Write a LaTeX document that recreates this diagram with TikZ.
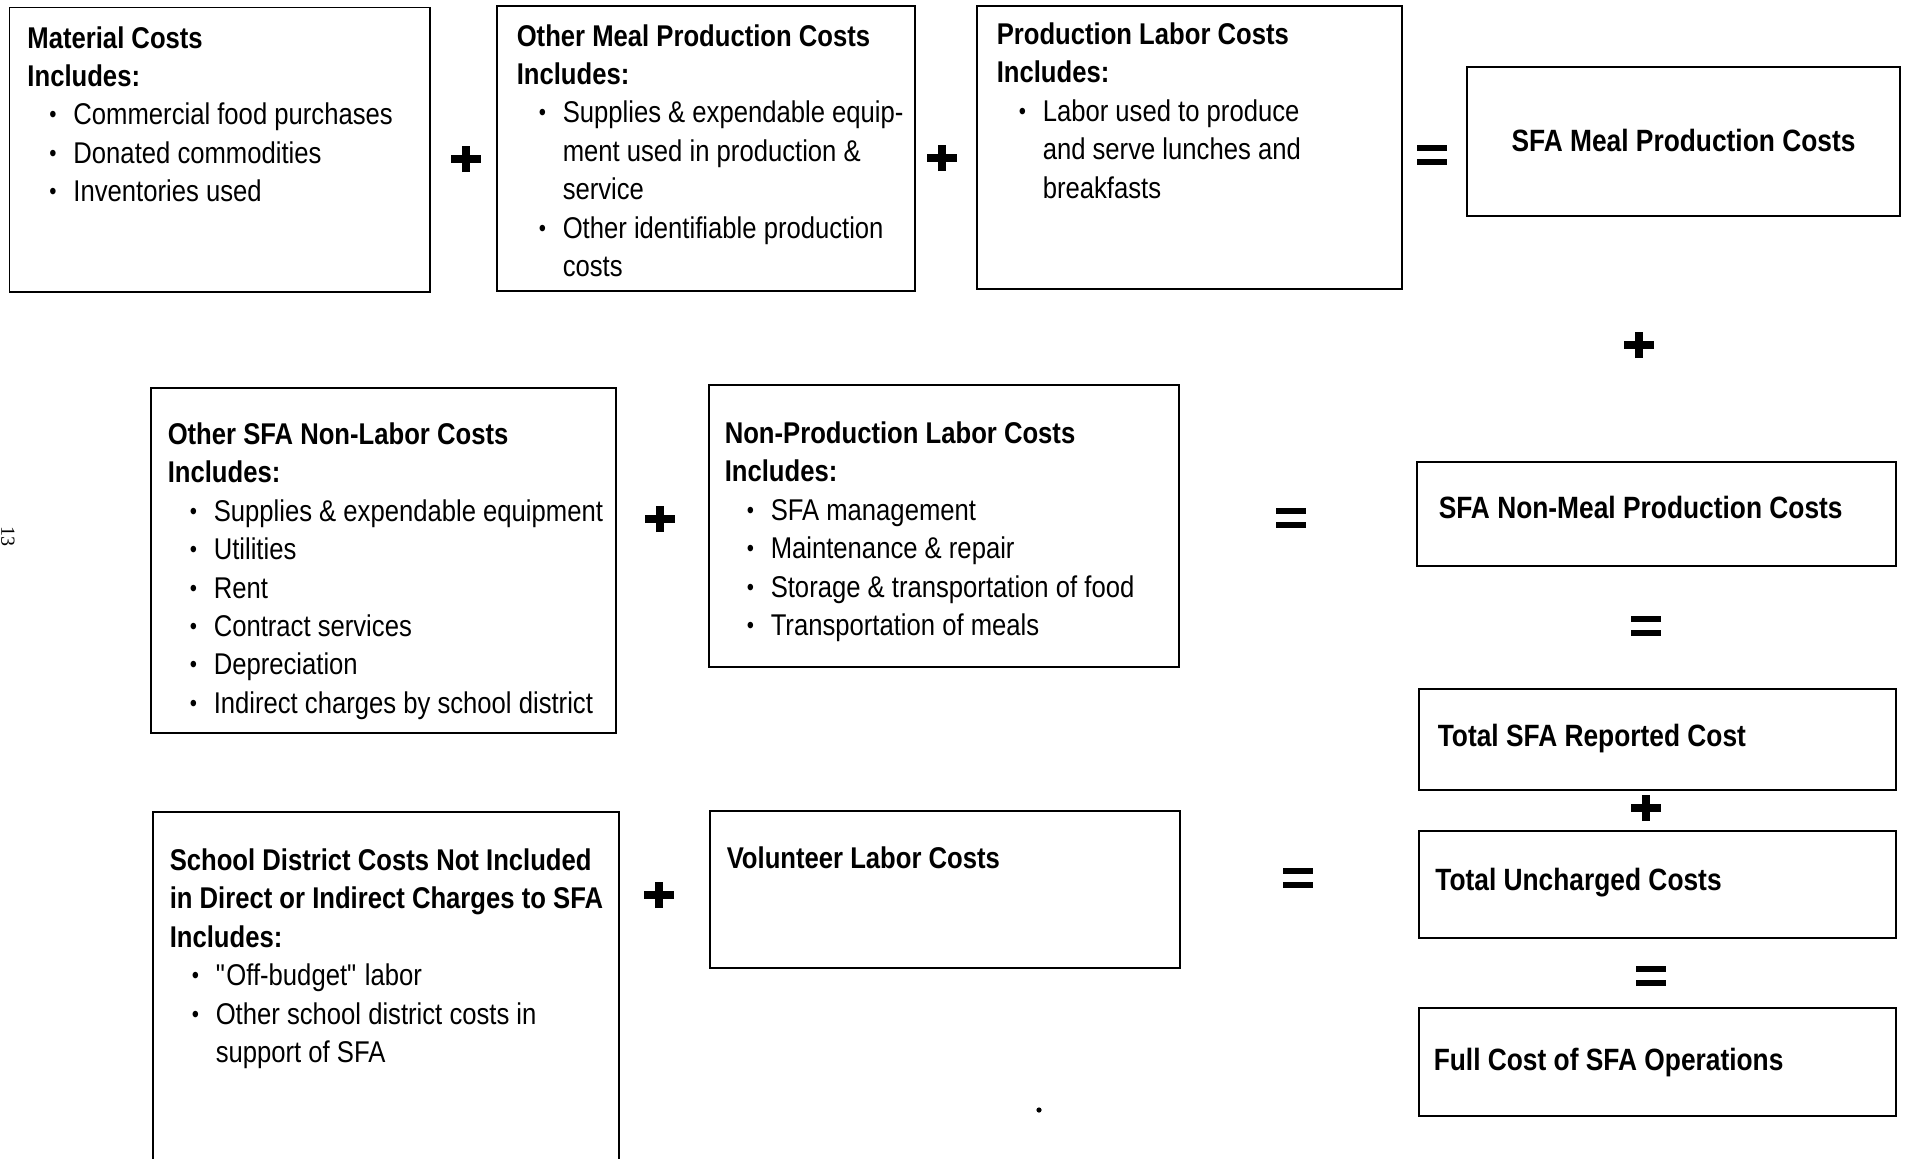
\documentclass[tikz,border=0pt]{standalone}
\usepackage{fontspec}
\setmainfont{Liberation Sans}[FakeStretch=0.855]
\newfontfamily\pagefont{Liberation Serif}
\usetikzlibrary{positioning,fit}

% bullet line and continuation line of a list
\newcommand{\bul}{\hspace*{11pt}\makebox[12pt][l]{\raisebox{1pt}{\fontsize{12}{12}\selectfont\textbullet}}}
\newcommand{\cont}{\hspace*{23pt}}

\tikzset{
  costframe/.style={draw, line width=0.65pt, inner sep=0pt},
  costtext/.style={align=left, inner sep=0pt, font=\fontsize{15}{19.2}\selectfont},
  sumtext/.style={inner sep=0pt, font=\bfseries\fontsize{15.4}{18}\selectfont},
  plussign/.pic={\draw[line width=4pt] (-7.5pt,0) -- (7.5pt,0) (0,-6.5pt) -- (0,6.5pt);},
  eqsign/.pic={\draw[line width=3.2pt] (-7.5pt,3.5pt) -- (7.5pt,3.5pt) (-7.5pt,-3.5pt) -- (7.5pt,-3.5pt);}
}

\begin{document}
\begin{tikzpicture}[x=0.5pt, y=-0.5pt]
    \useasboundingbox (0,0) rectangle (1906,1158);

    % Page number
    \node[rotate=-90, inner sep=0pt, font=\pagefont\fontsize{10}{11}\selectfont] (pagenum) at (8,536) {13};

    % ==========================================
    % Row 1: meal production costs
    % ==========================================
    \node[costframe, fit={(9.7,7.3) (430,292)}] (matl) {};
    \node[costtext, below right=9.7pt and 9pt of matl.north west] (matl-txt)
        {\textbf{Material Costs}\\
         \textbf{Includes:}\\
         \bul Commercial food purchases\\
         \bul Donated commodities\\
         \bul Inventories used};

    \node[costframe, fit={(497,6) (915,291)}] (othmeal) {};
    \node[costtext, below right=9.3pt and 10pt of othmeal.north west] (othmeal-txt)
        {\textbf{Other Meal Production Costs}\\
         \textbf{Includes:}\\
         \bul Supplies \& expendable equip-\\
         \cont ment used in production \&\\
         \cont service\\
         \bul Other identifiable production\\
         \cont costs};

    \node[costframe, fit={(977,6) (1402,289)}] (prodlab) {};
    \node[costtext, below right=8.5pt and 10pt of prodlab.north west] (prodlab-txt)
        {\textbf{Production Labor Costs}\\
         \textbf{Includes:}\\
         \bul Labor used to produce\\
         \cont and serve lunches and\\
         \cont breakfasts};

    \node[costframe, fit={(1467,67) (1900,216)}] (meal) {};
    \node[sumtext, anchor=base] (meal-txt) at ([yshift=-4.75pt]meal.center) {SFA Meal Production Costs};

    \pic at (466,159) {plussign};
    \pic at (942,158) {plussign};
    \pic at (1432,155) {eqsign};
    \pic at (1639,345) {plussign};

    % ==========================================
    % Row 2: non-meal production costs
    % ==========================================
    \node[costframe, fit={(151,388) (616,733)}] (nonlab) {};
    \node[costtext, below right=17.5pt and 8.5pt of nonlab.north west] (nonlab-txt)
        {\textbf{Other SFA Non-Labor Costs}\\
         \textbf{Includes:}\\
         \bul Supplies \& expendable equipment\\
         \bul Utilities\\
         \bul Rent\\
         \bul Contract services\\
         \bul Depreciation\\
         \bul Indirect charges by school district};

    \node[costframe, fit={(709,385) (1179,667)}] (nonprod) {};
    \node[costtext, below right=18.5pt and 8pt of nonprod.north west] (nonprod-txt)
        {\textbf{Non-Production Labor Costs}\\
         \textbf{Includes:}\\
         \bul SFA management\\
         \bul Maintenance \& repair\\
         \bul Storage \& transportation of food\\
         \bul Transportation of meals};

    \node[costframe, fit={(1417,462) (1896,566)}] (nonmeal) {};
    \node[sumtext, anchor=base west] (nonmeal-txt) at ([xshift=11pt, yshift=-2pt]nonmeal.west) {SFA Non-Meal Production Costs};

    \pic at (660,519) {plussign};
    \pic at (1291,518) {eqsign};
    \pic at (1646,626) {eqsign};

    % ==========================================
    % Column on the right: totals
    % ==========================================
    \node[costframe, fit={(1419,689) (1896,790)}] (reported) {};
    \node[sumtext, anchor=base west] (reported-txt) at ([xshift=9.5pt, yshift=-3.5pt]reported.west) {Total SFA Reported Cost};

    \node[costframe, fit={(1419,831) (1896,938)}] (uncharged) {};
    \node[sumtext, anchor=base west] (uncharged-txt) at ([xshift=8.3pt, yshift=-2.75pt]uncharged.west) {Total Uncharged Costs};

    \node[costframe, fit={(1419,1008) (1896,1116)}] (fullcost) {};
    \node[sumtext, anchor=base west] (fullcost-txt) at ([xshift=7.5pt, yshift=-4pt]fullcost.west) {Full Cost of SFA Operations};

    \pic at (1646,808) {plussign};
    \pic at (1651,976) {eqsign};

    % ==========================================
    % Row 3: uncharged costs
    % ==========================================
    \node[costframe, fit={(153,812) (619,1180)}] (district) {};
    \node[costtext, below right=18.5pt and 8.5pt of district.north west] (district-txt)
        {\textbf{School District Costs Not Included}\\
         \textbf{in Direct or Indirect Charges to SFA}\\
         \textbf{Includes:}\\
         \bul \textquotedbl Off-budget\textquotedbl{} labor\\
         \bul Other school district costs in\\
         \cont support of SFA};

    \node[costframe, fit={(710,811) (1180,968)}] (volunteer) {};
    \node[costtext, below right=18pt and 8.5pt of volunteer.north west] (volunteer-txt)
        {\textbf{Volunteer Labor Costs}};

    \pic at (659,895) {plussign};
    \pic at (1298,878) {eqsign};

    % stray dot
    \fill (1039,1110) circle (1.3pt);
\end{tikzpicture}
\end{document}
